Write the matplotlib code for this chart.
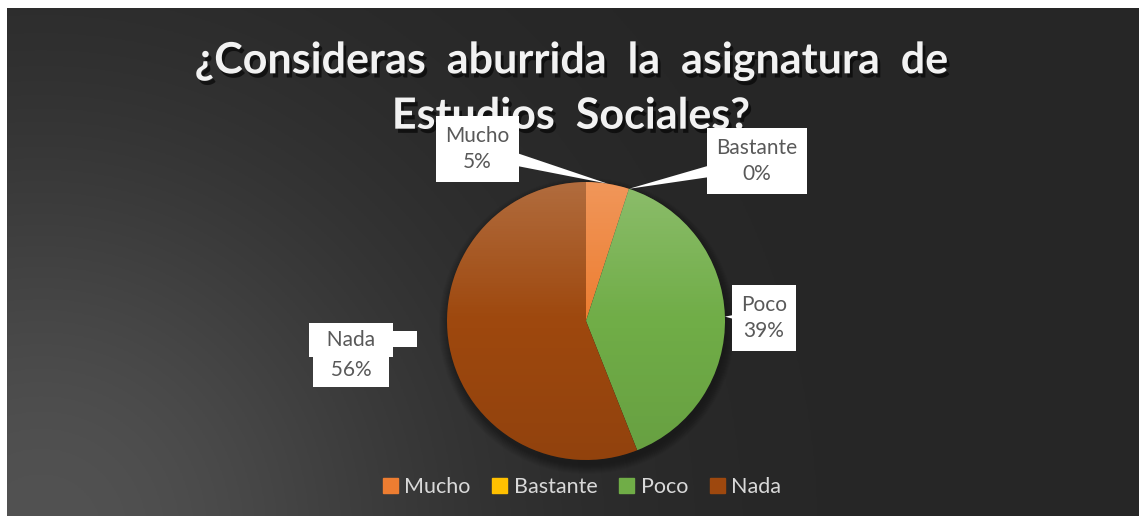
import numpy as np
import matplotlib.pyplot as plt
from matplotlib.patches import Circle, Polygon, Patch, Rectangle
import matplotlib.patheffects as pe

# data
categories = ["Mucho", "Bastante", "Poco", "Nada"]
percentages = [5, 0, 39, 56]
colors = ["#ED7D31", "#FFC000", "#70AD47", "#9E480E"]
title = "¿Consideras  aburrida  la  asignatura  de\nEstudios  Sociales?"

# layout (pixels, y measured from the top of the picture)
W, H = 1139, 516
CX, CY, R = 586, 321, 139
label_pos = {
    "Mucho": (477, 149),
    "Bastante": (757, 161),
    "Poco": (764, 318),
    "Nada": (351, 355),
}
FONT = "Lato"
LABEL_GREY = "#595959"
LABEL_SIZE = 15

plt.rcParams["font.family"] = [FONT, "DejaVu Sans"]

fig = plt.figure(figsize=(W / 100, H / 100), dpi=100, facecolor="white")
ax = fig.add_axes([0, 0, 1, 1])


def fy(y_top):
    return H - y_top


# background: dark, lighter towards the bottom left corner
xs = np.linspace(7, W, 400)
ys = np.linspace(0, H - 8, 200)
gx, gy = np.meshgrid(xs, ys)
d = np.hypot(gx - 40, gy + 20)
lum = (38 + 44 * np.exp(-(d / 400) ** 2)) / 255
bg = np.dstack([lum, lum, lum])
ax.imshow(bg, extent=(7, W, 0, H - 8), origin="lower", zorder=0, aspect="auto")

# soft shadow below the pie
for i in range(10):
    ax.add_patch(Circle((CX + 1, fy(CY) - 5), R + 9 - i, color="black",
                        alpha=0.03, lw=0, zorder=1))

wedges, _ = ax.pie(percentages, colors=colors, startangle=90, counterclock=False,
                   center=(CX, fy(CY)), radius=R, frame=True,
                   wedgeprops=dict(linewidth=0, zorder=2))

# vertical shading over the pie, lighter top, darker bottom
t = np.linspace(0, 1, 256)[:, None]
shade = np.zeros((256, 1, 4))
shade[..., :3] = np.where(t > 0.5, 1.0, 0.0)[..., None]
shade[..., 3] = np.where(t > 0.5, (t - 0.5) * 0.4, (0.5 - t) * 0.16)
im = ax.imshow(shade, extent=(CX - R, CX + R, fy(CY) - R, fy(CY) + R),
               origin="lower", zorder=3, aspect="auto")
im.set_clip_path(Circle((CX, fy(CY)), R, transform=ax.transData))

# data labels with white callouts
start = 90.0
for name, pct in zip(categories, percentages):
    mid = np.deg2rad(start - pct * 3.6 / 2)
    start -= pct * 3.6
    tip = (CX + R * np.cos(mid), fy(CY) + R * np.sin(mid))
    lx, ly = label_pos[name]
    ly = fy(ly)
    if name == "Nada":
        box = dict(boxstyle="square,pad=0.35", fc="white", ec="none")
        ax.text(lx, ly + 15, "  " + name + "  ", ha="center", va="center",
                fontsize=LABEL_SIZE, color=LABEL_GREY, zorder=6, bbox=box)
        ax.text(lx, ly - 15, "  " + f"{pct}%" + "  ", ha="center", va="center",
                fontsize=LABEL_SIZE, color=LABEL_GREY, zorder=6, bbox=box)
        ax.add_patch(Rectangle((lx + 30, ly + 8), 36, 16, fc="white", ec="none", zorder=5))
        continue
    dx, dy = tip[0] - lx, tip[1] - ly
    n = np.hypot(dx, dy)
    px, py = -dy / n * 9, dx / n * 9
    ax.add_patch(Polygon([(lx + px, ly + py), (lx - px, ly - py), tip],
                         fc="white", ec="none", zorder=5))
    ax.text(lx, ly, f"{name}\n{pct}%", ha="center", va="center", fontsize=LABEL_SIZE,
            color=LABEL_GREY, linespacing=1.4, zorder=6,
            bbox=dict(boxstyle="square,pad=0.45", fc="white", ec="none"))

# title
ax.text(571, fy(88), title, ha="center", va="center", fontsize=31,
        fontweight="bold", color="#f2f2f2", linespacing=1.45, zorder=4,
        path_effects=[pe.withSimplePatchShadow(offset=(2, -3), shadow_rgbFace="black",
                                               alpha=0.6)])

# legend
handles = [Patch(color=c, label=n) for c, n in zip(colors, categories)]
leg = fig.legend(handles=handles, loc="center", bbox_to_anchor=(582 / W, 1 - 487 / H),
                 ncol=4, frameon=False, fontsize=15.5, handlelength=0.7,
                 handleheight=0.7, handletextpad=0.3, columnspacing=1.0)
for txt in leg.get_texts():
    txt.set_color("#d9d9d9")

ax.set_xlim(0, W)
ax.set_ylim(0, H)
ax.set_aspect("auto")
ax.axis("off")

fig.savefig("out.png", dpi=100, facecolor="white")
